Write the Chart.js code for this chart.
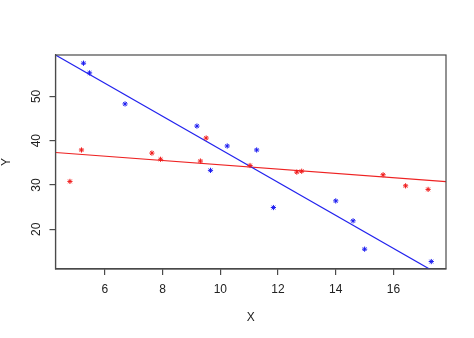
<!DOCTYPE html>
<html>
<head>
<meta charset="utf-8">
<script src="https://cdn.jsdelivr.net/npm/chart.js@4/dist/chart.umd.min.js"></script>
<style>
  html, body { margin: 0; padding: 0; background: #fff; }
  #wrap { width: 474px; height: 338px; }
</style>
</head>
<body>
<div id="wrap"><canvas id="c" width="474" height="338"></canvas></div>
<script>
// scatter of two groups with their fitted lines

const blueX = [5.26, 5.47, 6.70, 9.19, 9.66, 10.24, 11.26, 11.84, 14.0, 14.60, 15.0, 17.31];
const blueY = [57.5, 55.3, 48.3, 43.3, 33.3, 38.8, 37.9, 24.9, 26.4, 21.9, 15.5, 12.7];
const redX = [4.79, 5.19, 7.63, 7.93, 9.31, 9.51, 11.03, 12.65, 12.82, 15.64, 16.42, 17.20];
const redY = [30.8, 37.9, 37.2, 35.8, 35.4, 40.6, 34.4, 32.9, 33.1, 32.3, 29.8, 29.0];

const blueLineX = [4.29, 17.82];
const blueLineY = [59.35, 8.88];
const redLineX = [4.29, 17.82];
const redLineY = [37.33, 30.77];

const xTicks = [6, 8, 10, 12, 14, 16];
const yTicks = [20, 30, 40, 50];

const pts = (xs, ys) => xs.map((x, i) => ({ x, y: ys[i] }));
const FONT = "'Liberation Sans', Arial, sans-serif";
const AXIS = '#4a4a4a';

const boxPlugin = {
  id: 'box',
  afterDraw(chart) {
    const { ctx, chartArea: a, scales } = chart;
    ctx.save();
    ctx.strokeStyle = AXIS;
    ctx.lineWidth = 1.2;
    ctx.strokeRect(a.left, a.top, a.right - a.left, a.bottom - a.top);
    // R style vertical y tick labels
    ctx.fillStyle = '#222';
    ctx.font = '12px ' + FONT;
    ctx.textAlign = 'center';
    ctx.textBaseline = 'middle';
    yTicks.forEach(v => {
      const y = scales.y.getPixelForValue(v);
      ctx.save();
      ctx.translate(37, y);
      ctx.rotate(-Math.PI / 2);
      ctx.fillText(String(v), 0, 0);
      ctx.restore();
    });
    ctx.restore();
  }
};

new Chart(document.getElementById('c'), {
  type: 'scatter',
  data: {
    datasets: [
      { data: pts(blueX, blueY), pointStyle: 'star', pointRadius: 2.6, borderWidth: 1, borderColor: '#1a1af0', backgroundColor: '#1a1af0' },
      { data: pts(redX, redY), pointStyle: 'star', pointRadius: 2.6, borderWidth: 1, borderColor: '#f01a1a', backgroundColor: '#f01a1a' },
      { type: 'line', data: pts(blueLineX, blueLineY), borderColor: '#2222ee', borderWidth: 1.2, pointRadius: 0, fill: false },
      { type: 'line', data: pts(redLineX, redLineY), borderColor: '#ee2222', borderWidth: 1.2, pointRadius: 0, fill: false }
    ]
  },
  options: {
    responsive: false,
    animation: false,
    events: [],
    layout: { padding: { top: 55, right: 28, left: 0, bottom: 0 } },
    plugins: { legend: { display: false }, tooltip: { enabled: false } },
    scales: {
      x: {
        type: 'linear', min: 4.29, max: 17.82,
        afterBuildTicks: s => { s.ticks = xTicks.map(v => ({ value: v })); },
        afterFit: s => { s.height = 69; },
        grid: { drawOnChartArea: false, drawTicks: true, tickLength: 6, color: AXIS, lineWidth: 1.2 },
        border: { display: true, color: AXIS, width: 1.2 },
        ticks: { color: '#222', font: { family: FONT, size: 12 }, padding: 7, maxRotation: 0 },
        title: { display: true, text: 'X', color: '#222', font: { family: FONT, size: 12 }, padding: { top: 0, bottom: 13 } }
      },
      y: {
        type: 'linear', min: 11.02, max: 59.35,
        afterBuildTicks: s => { s.ticks = yTicks.map(v => ({ value: v })); },
        afterFit: s => { s.width = 55.5; },
        grid: { drawOnChartArea: false, drawTicks: true, tickLength: 6, color: AXIS, lineWidth: 1.2 },
        border: { display: true, color: AXIS, width: 1.2 },
        ticks: { color: 'rgba(0,0,0,0)', font: { family: FONT, size: 12 } },
        title: { display: true, text: 'Y', color: '#222', font: { family: FONT, size: 12, lineHeight: 1 }, padding: { top: 1, bottom: 0 } }
      }
    }
  },
  plugins: [boxPlugin]
});
</script>
</body>
</html>
